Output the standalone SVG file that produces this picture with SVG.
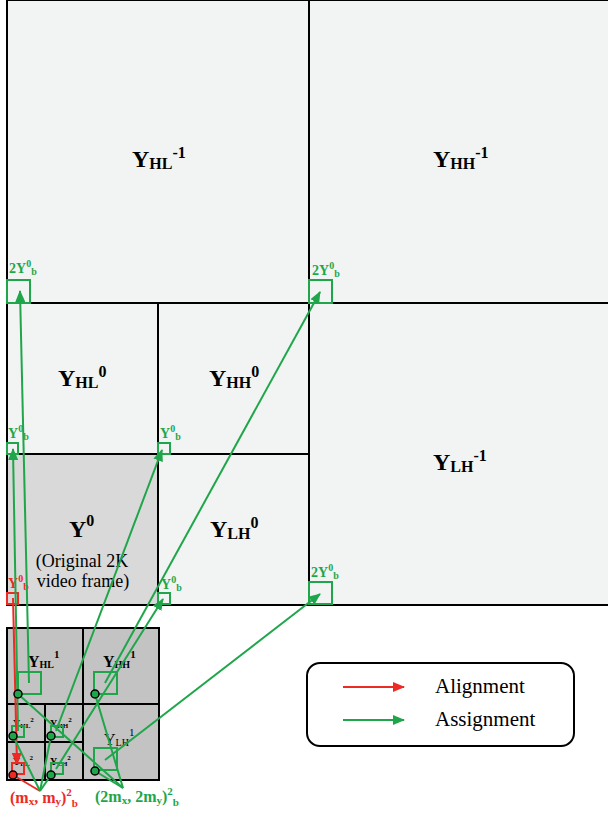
<svg xmlns="http://www.w3.org/2000/svg" width="608" height="813" viewBox="0 0 608 813">
<defs>
<style>
.blk{stroke:#000;stroke-width:2}
.lt{fill:#f2f4f3}
.g{stroke:#1fa64a;stroke-width:2;fill:none}
.r{stroke:#ee2a24;stroke-width:2;fill:none}
.t{font-family:"Liberation Serif",serif;fill:#000}
.b{font-weight:bold}
.gt{font-family:"Liberation Serif",serif;font-weight:bold;fill:#1fa64a}
.rt{font-family:"Liberation Serif",serif;font-weight:bold;fill:#ee2a24}
.cg{fill:#1fa64a;stroke:#000;stroke-width:1.5}
.cr{fill:#ee2a24;stroke:#000;stroke-width:1.5}
</style>
<marker id="ag" markerWidth="12" markerHeight="10" refX="11" refY="5" orient="auto" markerUnits="userSpaceOnUse"><path d="M0,0 L12,5 L0,10 Z" fill="#1fa64a"/></marker>
<marker id="ar" markerWidth="12" markerHeight="10" refX="11" refY="5" orient="auto" markerUnits="userSpaceOnUse"><path d="M0,0 L12,5 L0,10 Z" fill="#ee2a24"/></marker>
</defs>
<rect width="608" height="813" fill="#fff"/>

<g id="Y_HL_m1"><rect x="7" y="0" width="302" height="303" class="lt blk"/>
<text class="t b" x="132" y="167" font-size="24">Y<tspan font-size="16" dy="2">HL</tspan><tspan font-size="16" dy="-11">-1</tspan></text></g>
<g id="Y_HH_m1"><rect x="309" y="0" width="302" height="303" class="lt blk"/>
<text class="t b" x="433" y="167" font-size="24">Y<tspan font-size="16" dy="2">HH</tspan><tspan font-size="16" dy="-11">-1</tspan></text></g>
<g id="Y_LH_m1"><rect x="309" y="303" width="302" height="302" class="lt blk"/>
<text class="t b" x="433" y="470" font-size="24">Y<tspan font-size="16" dy="2">LH</tspan><tspan font-size="16" dy="-11">-1</tspan></text></g>
<g id="Y_HL_0"><rect x="7" y="303" width="151" height="151" class="lt blk"/>
<text class="t b" x="58" y="386" font-size="24">Y<tspan font-size="16" dy="2">HL</tspan><tspan font-size="16" dy="-11">0</tspan></text></g>
<g id="Y_HH_0"><rect x="158" y="303" width="151" height="151" class="lt blk"/>
<text class="t b" x="209" y="386" font-size="24">Y<tspan font-size="16" dy="2">HH</tspan><tspan font-size="16" dy="-11">0</tspan></text></g>
<g id="Y_LH_0"><rect x="158" y="454" width="151" height="151" class="lt blk"/>
<text class="t b" x="210" y="537" font-size="24">Y<tspan font-size="16" dy="2">LH</tspan><tspan font-size="16" dy="-11">0</tspan></text></g>
<g id="Y_0"><rect x="7" y="454" width="151" height="151" fill="#d9d9d9" class="blk"/>
<text class="t b" x="69" y="537" font-size="24">Y<tspan font-size="16" dy="-11">0</tspan></text>
<text class="t" x="82" y="567" font-size="18" text-anchor="middle">(Original 2K</text>
<text class="t" x="83" y="587" font-size="18" text-anchor="middle">video frame)</text></g>

<g id="Y_HL_1"><rect x="7" y="628" width="76" height="76" fill="#c3c3c3" class="blk"/>
<text class="t b" x="28" y="667" font-size="16">Y<tspan font-size="10" dy="1">HL</tspan><tspan font-size="11" dy="-10">1</tspan></text></g>
<g id="Y_HH_1"><rect x="83" y="628" width="76" height="76" fill="#c3c3c3" class="blk"/>
<text class="t b" x="103" y="667" font-size="16">Y<tspan font-size="10" dy="1">HH</tspan><tspan font-size="11" dy="-10">1</tspan></text></g>
<g id="Y_LH_1"><rect x="83" y="704" width="76" height="76" fill="#c3c3c3" class="blk"/>
<text class="t" x="104" y="745" font-size="16">Y<tspan font-size="10" dy="1">LH</tspan><tspan font-size="11" dy="-10">1</tspan></text></g>
<g id="Y_HL_2"><rect x="7" y="704" width="38" height="38" fill="#c3c3c3" class="blk"/>
<text class="t b" x="13" y="727" font-size="10">Y<tspan font-size="7" dy="1">HL</tspan><tspan font-size="7" dy="-6">2</tspan></text></g>
<g id="Y_HH_2"><rect x="45" y="704" width="38" height="38" fill="#c3c3c3" class="blk"/>
<text class="t b" x="50" y="727" font-size="10">Y<tspan font-size="7" dy="1">HH</tspan><tspan font-size="7" dy="-6">2</tspan></text></g>
<g id="Y_LL_2"><rect x="7" y="742" width="38" height="38" fill="#c3c3c3" class="blk"/>
<text class="t b" x="13" y="765" font-size="10">Y<tspan font-size="7" dy="1">LL</tspan><tspan font-size="7" dy="-6">2</tspan></text></g>
<g id="Y_LH_2"><rect x="45" y="742" width="38" height="38" fill="#c3c3c3" class="blk"/>
<text class="t b" x="50" y="765" font-size="10">Y<tspan font-size="7" dy="1">LH</tspan><tspan font-size="7" dy="-6">2</tspan></text></g>

<g id="blocks">
<rect x="7" y="280" width="23" height="23" class="g"/>
<rect x="309" y="280" width="23" height="23" class="g"/>
<rect x="309" y="582" width="23" height="22" class="g"/>
<rect x="7" y="443" width="11" height="11" class="g"/>
<rect x="158" y="443" width="12" height="11" class="g"/>
<rect x="158" y="593" width="12" height="11" class="g"/>
<rect x="7" y="593" width="11" height="11" class="r"/>
<rect x="18" y="672" width="23" height="22" class="g"/>
<rect x="94" y="672" width="23" height="22" class="g"/>
<rect x="94" y="748" width="23" height="22" class="g"/>
<rect x="12" y="726" width="12" height="11" class="g"/>
<rect x="51" y="726" width="12" height="11" class="g"/>
<rect x="12" y="763" width="12" height="11" class="r"/>
<rect x="51" y="763" width="12" height="11" class="g"/>
<text class="gt" x="9" y="273" font-size="14">2Y<tspan font-size="10" dy="-6">0</tspan><tspan font-size="10" dy="8">b</tspan></text>
<text class="gt" x="312" y="275" font-size="14">2Y<tspan font-size="10" dy="-6">0</tspan><tspan font-size="10" dy="8">b</tspan></text>
<text class="gt" x="311" y="577" font-size="14">2Y<tspan font-size="10" dy="-6">0</tspan><tspan font-size="10" dy="8">b</tspan></text>
<text class="gt" x="8" y="438" font-size="14">Y<tspan font-size="10" dy="-6">0</tspan><tspan font-size="10" dy="8">b</tspan></text>
<text class="gt" x="160" y="438" font-size="14">Y<tspan font-size="10" dy="-6">0</tspan><tspan font-size="10" dy="8">b</tspan></text>
<text class="gt" x="161" y="589" font-size="14">Y<tspan font-size="10" dy="-6">0</tspan><tspan font-size="10" dy="8">b</tspan></text>
<text class="rt" x="8" y="588" font-size="14">Y<tspan font-size="10" dy="-6">0</tspan><tspan font-size="10" dy="8">b</tspan></text>
</g>

<g id="connectors">
<line x1="29" y1="683" x2="20" y2="291" class="g" marker-end="url(#ag)"/>
<line x1="105" y1="683" x2="320" y2="292" class="g" marker-end="url(#ag)"/>
<line x1="105" y1="760" x2="320" y2="594" class="g" marker-end="url(#ag)"/>
<line x1="18" y1="731" x2="13" y2="449" class="g" marker-end="url(#ag)"/>
<line x1="56" y1="731" x2="162" y2="450" class="g" marker-end="url(#ag)"/>
<line x1="56" y1="769" x2="163" y2="599" class="g" marker-end="url(#ag)"/>
<line x1="13" y1="598" x2="17" y2="764" class="r" marker-end="url(#ar)"/>
<line x1="40" y1="791" x2="13" y2="775" class="r"/>
<line x1="40" y1="791" x2="13" y2="736" class="g"/>
<line x1="40" y1="791" x2="51" y2="736" class="g"/>
<line x1="40" y1="791" x2="51" y2="775" class="g"/>
<line x1="123" y1="788" x2="18" y2="694" class="g"/>
<line x1="123" y1="788" x2="95" y2="694" class="g"/>
<line x1="123" y1="788" x2="95" y2="771" class="g"/>
</g>

<g id="points">
<circle cx="18" cy="694" r="4" class="cg"/>
<circle cx="95" cy="694" r="4" class="cg"/>
<circle cx="95" cy="771" r="4" class="cg"/>
<circle cx="13" cy="736" r="4" class="cg"/>
<circle cx="51" cy="736" r="4" class="cg"/>
<circle cx="13" cy="775" r="4" class="cr"/>
<circle cx="51" cy="775" r="4" class="cg"/>
</g>

<text class="rt" x="10" y="803" font-size="16">(m<tspan font-size="11" dy="2">x</tspan><tspan dy="-2">, m</tspan><tspan font-size="11" dy="2">y</tspan><tspan dy="-2">)</tspan><tspan font-size="11" dy="-7">2</tspan><tspan font-size="11" dy="11">b</tspan></text>
<text class="gt" x="95" y="802" font-size="16">(2m<tspan font-size="11" dy="2">x</tspan><tspan dy="-2">, 2m</tspan><tspan font-size="11" dy="2">y</tspan><tspan dy="-2">)</tspan><tspan font-size="11" dy="-7">2</tspan><tspan font-size="11" dy="11">b</tspan></text>

<g id="legend">
<rect x="307" y="663" width="267" height="83" rx="13" fill="#fff" stroke="#000" stroke-width="2"/>
<line x1="343" y1="687" x2="404" y2="687" class="r" marker-end="url(#ar)"/>
<line x1="343" y1="720" x2="404" y2="720" class="g" marker-end="url(#ag)"/>
<text class="t" x="435" y="693" font-size="21">Alignment</text>
<text class="t" x="435" y="726" font-size="21">Assignment</text>
</g>
</svg>
